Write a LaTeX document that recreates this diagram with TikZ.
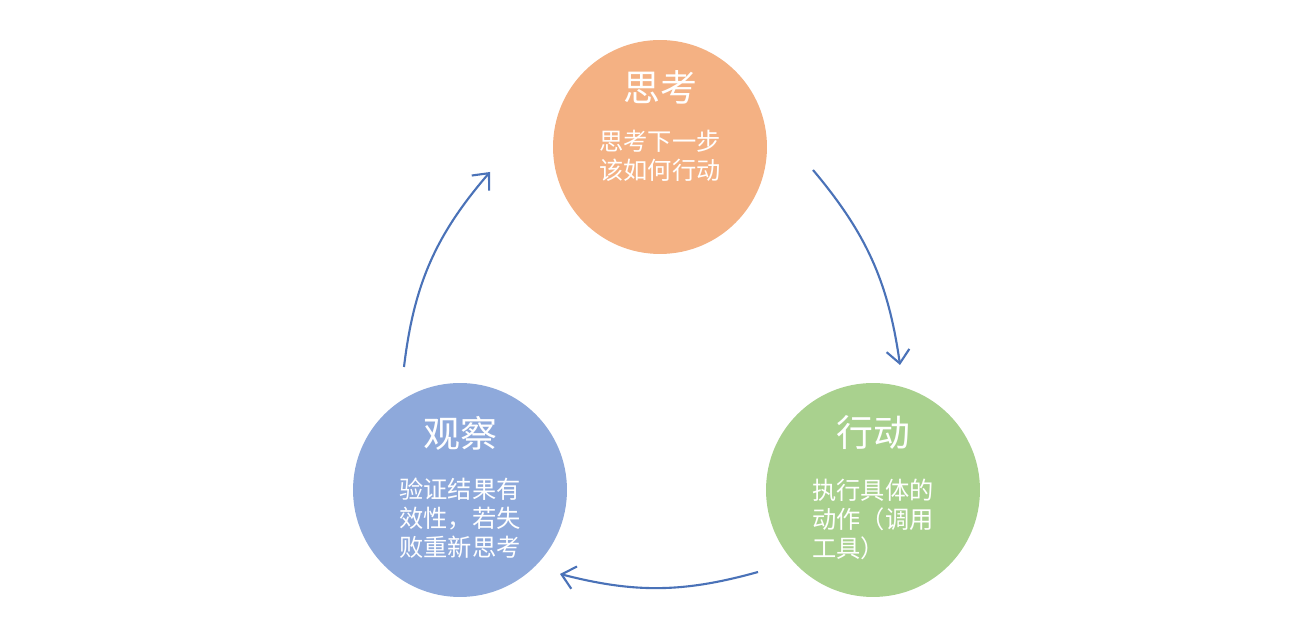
\documentclass[tikz,border=0pt]{standalone}
\usepackage{fontspec}
\usepackage{xcolor}
\usepackage{tikz}
\usetikzlibrary{arrows.meta,positioning,calc}
\newfontfamily\cjk{Noto Sans CJK SC}
\definecolor{LoopOrange}{HTML}{F4B183}
\definecolor{LoopBlue}{HTML}{8EA9DB}
\definecolor{LoopGreen}{HTML}{A9D18E}
\definecolor{LoopArrow}{HTML}{4A72B8}
\tikzset{
  stagecircle/.style={circle,draw=none,minimum size=4.28cm,inner sep=0pt},
  stagetitle/.style={text=white,font=\cjk\fontsize{21pt}{24pt}\selectfont,inner sep=0pt},
  stagebody/.style={text=white,align=left,font=\cjk\fontsize{13.8pt}{16.5pt}\selectfont,inner sep=0pt},
  loooparrow/.style={-{Straight Barb[length=2.6mm,width=4.6mm]},line width=1.2pt,draw=LoopArrow}
}
\begin{document}
\begin{tikzpicture}[x=0.02cm,y=0.02cm]
\useasboundingbox[fill=white] (0,0) rectangle (1302,641);
\node[stagecircle,fill=LoopOrange] (think) at (660,494) {};
\node[stagecircle,fill=LoopBlue] (observe) at (460,151) {};
\node[stagecircle,fill=LoopGreen] (act) at (873,151) {};
\node[stagetitle] (thinktitle) at ([yshift=1.2cm]think.center) {思考};
\node[stagebody,align=center] (thinkbody) at ([yshift=-0.18cm]think.center) {思考下一步\\该如何行动};
\node[stagetitle] (observetitle) at ([yshift=1.14cm]observe.center) {观察};
\node[stagebody] (observebody) at ([yshift=-0.56cm]observe.center) {验证结果有\\效性，若失\\败重新思考};
\node[stagetitle] (acttitle) at ([yshift=1.14cm]act.center) {行动};
\node[stagebody] (actbody) at ([yshift=-0.58cm]act.center) {执行具体的\\动作（调用\\工具）};
\coordinate (obsout) at (404,274);
\coordinate (thinkin) at (490,469);
\coordinate (thinkout) at (813,471);
\coordinate (actin) at (900,276);
\coordinate (actout) at (758,69);
\coordinate (obsin) at (560,67);
\draw[loooparrow] (obsout) to[bend left=17] (thinkin);
\draw[loooparrow] (thinkout) to[bend left=16] (actin);
\draw[loooparrow] (actout) to[bend left=15] (obsin);
\end{tikzpicture}
\end{document}
